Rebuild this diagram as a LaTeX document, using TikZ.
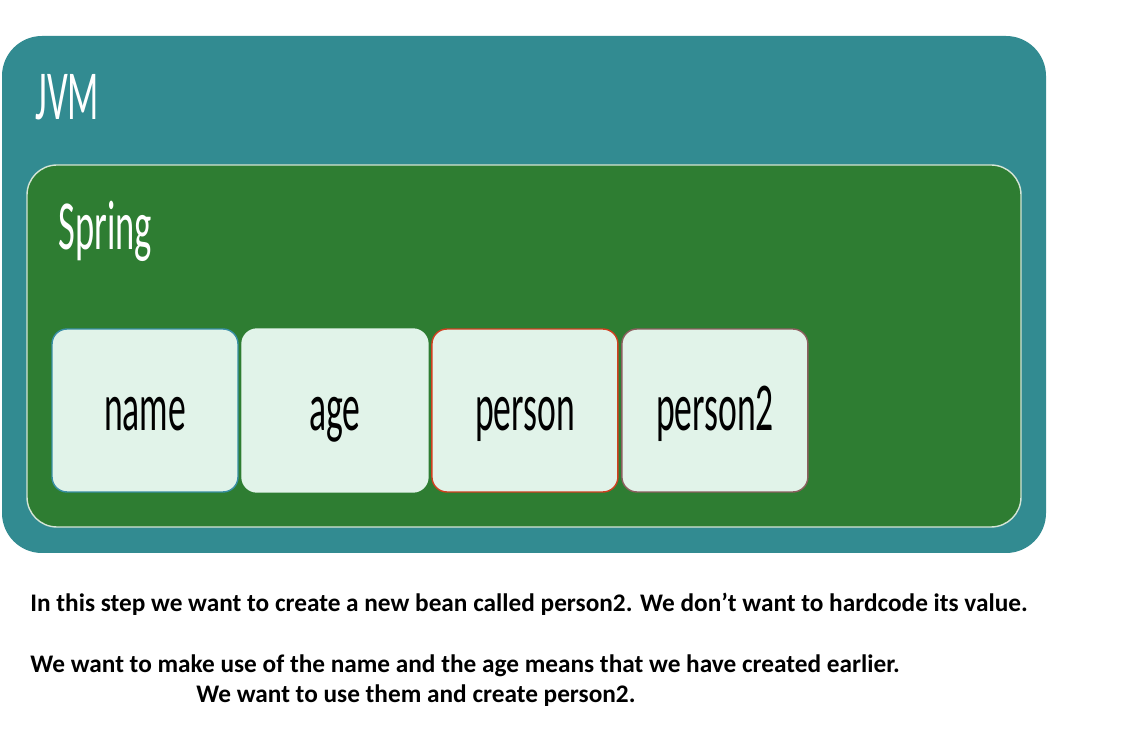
\documentclass[tikz,border=0pt]{standalone}
\usepackage{fontspec}
\setmainfont{Carlito}
\newfontfamily\handfont[FakeStretch=0.52]{Carlito}
\usetikzlibrary{positioning}

\definecolor{jvmteal}{RGB}{50,139,145}
\definecolor{springgreen}{RGB}{46,125,50}
\definecolor{beanfill}{RGB}{225,243,233}
\definecolor{tealedge}{RGB}{58,143,165}
\definecolor{rededge}{RGB}{208,64,32}
\definecolor{greyedge}{RGB}{140,95,95}

\tikzset{
  bean/.style={draw=beanfill, fill=beanfill, rounded corners=15*0.02cm, line width=0.8pt,
    minimum width=3.72cm, minimum height=3.26cm, inner sep=0pt, outer sep=0pt,
    text height=30pt, text depth=7pt,
    font=\handfont\fontsize{39}{40}\selectfont},
  boxlabel/.style={anchor=base west, inner sep=0pt, text=white,
    font=\handfont\fontsize{40}{42}\selectfont},
  note/.style={anchor=base west, inner sep=0pt, font=\bfseries\fontsize{14.4}{16}\selectfont}
}

\begin{document}
\begin{tikzpicture}[x=0.02cm, y=-0.02cm]
  \useasboundingbox (0,0) rectangle (1125,732);

  % JVM and Spring containers
  \fill[jvmteal, rounded corners=0.8cm] (2,36) rectangle (1046,553);
  \draw[springgreen!20!white, fill=springgreen, line width=0.8pt, rounded corners=0.6cm]
    (27,165) rectangle (1021,527);
  \node[boxlabel] (jvm) at (35,120) {JVM};
  \node[boxlabel] (spring) at (58,250) {Spring};

  % beans
  \node[bean, draw=tealedge] (name) at (145,410.5) {name};
  \node[bean] (age) [right=0.08cm of name] {age};
  \node[bean, draw=rededge] (person) [right=0.08cm of age] {person};
  \node[bean, draw=greyedge] (person2) [right=0.08cm of person] {person2};

  % text below
  \node[note] (line1) at (30,611) {In this step we want to create a new bean called person2. We don’t want to hardcode its value.};
  \node[note] (line2) at (30,672) {We want to make use of the name and the age means that we have created earlier.};
  \node[note] (line3) at (196,702) {We want to use them and create person2.};
\end{tikzpicture}
\end{document}
